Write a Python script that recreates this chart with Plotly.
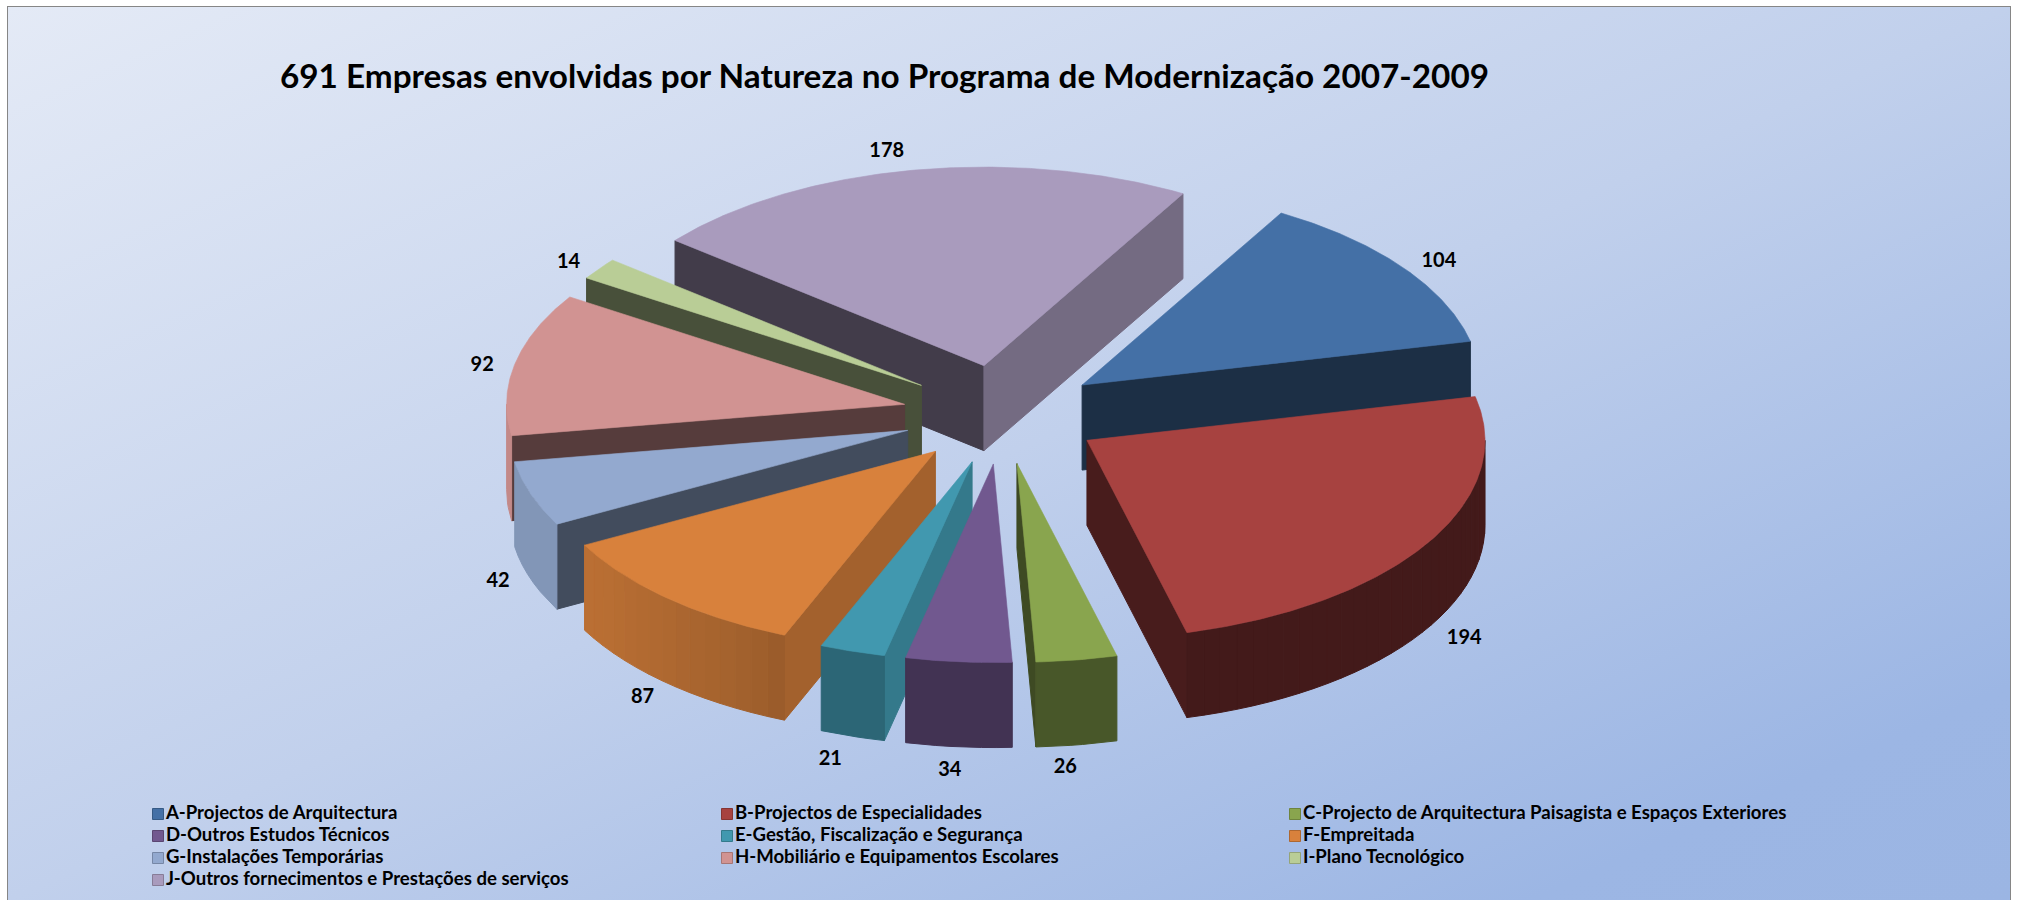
import base64
import numpy as np
import plotly.graph_objects as go

# ---------- data ----------
TITLE = "691 Empresas envolvidas por Natureza no Programa de Modernização 2007-2009"
categories = [
    "A-Projectos de Arquitectura",
    "B-Projectos de Especialidades",
    "C-Projecto de Arquitectura Paisagista e Espaços Exteriores",
    "D-Outros Estudos Técnicos",
    "E-Gestão, Fiscalização e Segurança",
    "F-Empreitada",
    "G-Instalações Temporárias",
    "H-Mobiliário e Equipamentos Escolares",
    "I-Plano Tecnológico",
    "J-Outros fornecimentos e Prestações de serviços",
]
values = [104, 194, 26, 34, 21, 87, 42, 92, 14, 178]

# ---------- style ----------
colors = ["#4470A6", "#A74240", "#89A54E", "#71588F", "#4198AF",
          "#D8813C", "#93A9CF", "#D19392", "#B9CD96", "#A99BBD"]
FONT = "Lato, Carlito, Calibri, sans-serif"
CX, CY = 1002, 414.5       # pie centre on the page
RX, RY = 398, 198.6        # projected radii of the pie's top ellipse
DEPTH = 85                 # extruded thickness
EXPLODE = 0.25
START = 30                 # first slice angle, degrees clockwise from north
LABEL_R = 1.36
LABEL_NUDGE = {"A": (1, 8), "B": (0, -1), "C": (-18, 1), "D": (-5, 2), "E": (-9, 3),
               "F": (3, -2), "G": (9, -4), "H": (10, 7), "I": (5, 7), "J": (-17, 3)}
LEGEND_X = [158, 727, 1295]
LEGEND_Y = [814, 836, 858, 880]


def rgb(hexcol, f=1.0):
    c = [int(hexcol[i:i + 2], 16) for i in (1, 3, 5)]
    return "rgb({},{},{})".format(*[int(round(v * f)) for v in c])


def rim_shade(deg):
    return float(np.interp(deg, [90, 165, 170, 185, 197, 210, 235, 250, 270],
                           [.40, .40, .52, .58, .67, .76, .85, .88, .95]))


def cut_shade(nx):
    return float(np.interp(nx, [-1, -.9, 0, .47, .87, .93, .98, 1],
                           [.45, .39, .39, .45, .69, .76, .8, .8]))


fig = go.Figure()


def poly(xs, ys, color):
    fig.add_trace(go.Scatter(x=xs, y=ys, mode="lines", fill="toself", fillcolor=color,
                             line=dict(color=color, width=1), hoverinfo="skip",
                             showlegend=False))


total = sum(values)
sweeps = [v / total * 360 for v in values]
starts = START + np.concatenate([[0], np.cumsum(sweeps)[:-1]])
slices = []
for i, v in enumerate(values):
    t1, t2 = starts[i], starts[i] + sweeps[i]
    m = np.radians((t1 + t2) / 2)
    ox = CX + EXPLODE * RX * np.sin(m)
    oy = CY - EXPLODE * RY * np.cos(m)
    slices.append((oy, i, t1, t2, ox))

# painter's order: farthest exploded slice first
for oy, i, t1, t2, ox in sorted(slices):
    col = colors[i]
    px = lambda d: ox + RX * np.sin(np.radians(d))
    py = lambda d: oy - RY * np.cos(np.radians(d))

    # radial cut faces
    if np.sin(np.radians(t1)) < 0:
        nx = -np.cos(np.radians(t1))
        poly([ox, px(t1), px(t1), ox, ox], [oy, py(t1), py(t1) + DEPTH, oy + DEPTH, oy],
             rgb(col, cut_shade(nx)))
    if np.sin(np.radians(t2)) > 0:
        nx = np.cos(np.radians(t2))
        poly([ox, px(t2), px(t2), ox, ox], [oy, py(t2), py(t2) + DEPTH, oy + DEPTH, oy],
             rgb(col, cut_shade(nx)))

    # outer rim, only its front-facing part; small slices flat, larger ones in fine bands
    a, b = max(t1, 90), min(t2, 270)
    if b > a:
        n = 1 if (b - a) < 25 else int((b - a) / 2.5)
        edges = np.linspace(a, b, n + 1)
        for e0, e1 in zip(edges[:-1], edges[1:]):
            mid = np.linspace(e0, e1, 8 if n == 1 else 3)
            xs = np.concatenate([px(mid), px(mid[::-1]), [px(e0)]])
            ys = np.concatenate([py(mid), py(mid[::-1]) + DEPTH, [py(e0)]])
            poly(xs, ys, rgb(col, rim_shade((e0 + e1) / 2)))

    # top face
    arc = np.linspace(t1, t2, max(3, int(sweeps[i] * 2)))
    fig.add_trace(go.Scatter(
        x=np.concatenate([[ox], px(arc), [ox]]),
        y=np.concatenate([[oy], py(arc), [oy]]),
        mode="lines", fill="toself", fillcolor=col, line=dict(color=col, width=0.6),
        name=categories[i], text=f"{categories[i]}: {values[i]}", hoverinfo="text",
        hoveron="fills", showlegend=False))

# value labels
lx, ly = [], []
for oy, i, t1, t2, ox in slices:
    m = np.radians((t1 + t2) / 2)
    dx, dy = LABEL_NUDGE.get(categories[i][0], (0, 0))
    lx.append(CX + LABEL_R * RX * np.sin(m) + dx)
    ly.append(CY - LABEL_R * RY * np.cos(m) + (DEPTH if np.cos(m) < 0 else 0) + dy)
fig.add_trace(go.Scatter(x=lx, y=ly, mode="text", text=[str(v) for v in values],
                         textfont=dict(family=FONT, size=20, color="#000", weight=700),
                         hoverinfo="skip", showlegend=False))

# legend entries: three columns, filled row by row
for k, (c, col) in enumerate(zip(categories, colors)):
    fig.add_trace(go.Scatter(x=[LEGEND_X[k % 3]], y=[LEGEND_Y[k // 3]], mode="markers+text",
                             name=c, text=[c], textposition="middle right",
                             marker=dict(symbol="square", size=11, color=col,
                                         line=dict(color=rgb(col, .8), width=1)),
                             textfont=dict(family=FONT, size=18.6, color="#000", weight=700),
                             hoverinfo="skip", showlegend=False))

svg = ('<svg xmlns="http://www.w3.org/2000/svg" width="2002" height="893" preserveAspectRatio="none">'
       '<defs><linearGradient id="g" x1="0" y1="0" x2="1" y2="1">'
       '<stop offset="0" stop-color="#E4EAF6"/><stop offset=".5" stop-color="#C1D0EC"/>'
       '<stop offset=".88" stop-color="#9CB6E4"/><stop offset="1" stop-color="#9BB5E3"/>'
       '</linearGradient></defs><rect width="2002" height="893" fill="url(#g)"/></svg>')
src = "data:image/svg+xml;base64," + base64.b64encode(svg.encode()).decode()

fig.update_layout(
    width=2022, height=900, margin=dict(l=0, r=0, t=0, b=0),
    paper_bgcolor="white", plot_bgcolor="rgba(0,0,0,0)",
    xaxis=dict(range=[0, 2022], visible=False, fixedrange=True),
    yaxis=dict(range=[900, 0], visible=False, fixedrange=True),
    title=dict(text=TITLE, x=280 / 2022, xanchor="left", y=1 - 76 / 900, yanchor="middle",
               font=dict(family=FONT, size=33.3, color="#000", weight=700)),
    images=[dict(source=src, xref="x", yref="y", x=8, y=7, sizex=2002, sizey=893,
                 xanchor="left", yanchor="top", sizing="stretch", layer="below")],
    shapes=[dict(type="rect", xref="x", yref="y", x0=8, x1=2010, y0=7, y1=920,
                 line=dict(color="#868686", width=2), layer="below")],
    showlegend=False,
)

fig.write_html("out.html", config={"displayModeBar": False},
               post_script="document.body.style.margin='0';document.body.style.overflow='hidden';")
